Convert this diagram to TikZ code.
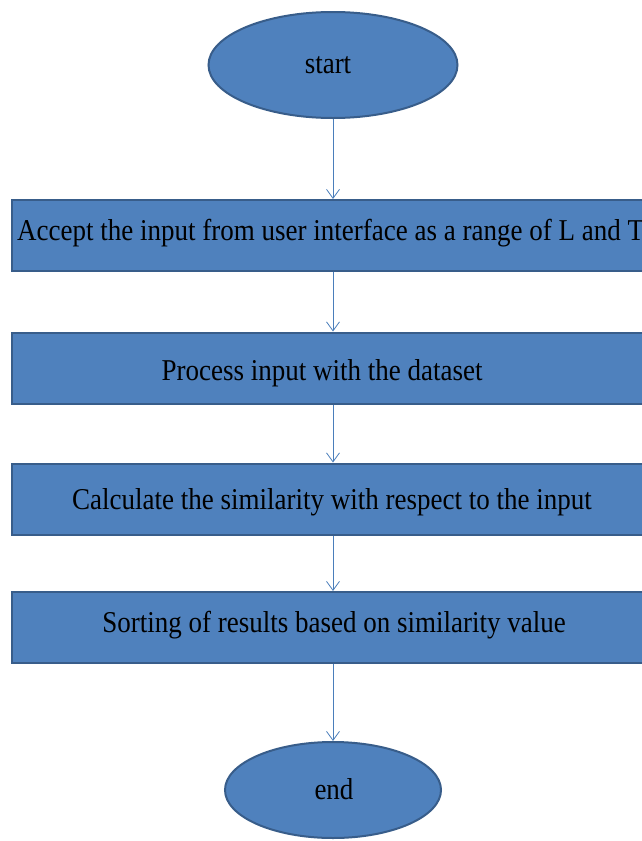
\documentclass[tikz,border=0pt]{standalone}
\usepackage{fontspec}
\setmainfont{Liberation Serif}
\usetikzlibrary{shapes.geometric,arrows.meta}
\definecolor{boxfill}{HTML}{4F81BD}
\definecolor{boxline}{HTML}{385D8A}
\definecolor{arrowblue}{HTML}{4A7EBB}
\newcommand{\tallt}[1]{\scalebox{1}[1.12]{#1}}
\begin{document}
\begin{tikzpicture}[x=1pt,y=-1pt,
  term/.style={ellipse,fill=boxfill,draw=boxline,line width=2pt},
  stepbox/.style={rectangle,fill=boxfill,draw=boxline,line width=2pt,minimum width=642pt,minimum height=71pt,inner sep=0pt},
  lbl/.style={anchor=base,inner sep=0pt,font=\fontsize{27}{30}\selectfont,text=black},
  conn/.style={draw=arrowblue,line width=0.8pt,-{Straight Barb[length=9pt,width=13pt,line width=0.8pt]}}]
\useasboundingbox (0,0) rectangle (642,841);
\clip (0,0) rectangle (642,841);
\node[term,minimum width=249pt,minimum height=106pt] (start) at (333,65) {};
\node[lbl] (ts) at (328,73) {\tallt{start}};
\node[stepbox] (b1) at (333,235.5) {};
\node[lbl,anchor=base west] (t1) at (17,240) {\tallt{Accept the input from user interface as a range of L and T}};
\node[stepbox] (b2) at (333,368) {};
\node[lbl] (t2) at (322,380) {\tallt{Process input with the dataset}};
\node[stepbox] (b3) at (333,499) {};
\node[lbl] (t3) at (332,509) {\tallt{Calculate the similarity with respect to the input}};
\node[stepbox] (b4) at (333,627.5) {};
\node[lbl] (t4) at (334,632) {\tallt{Sorting of results based on similarity value}};
\node[term,minimum width=216pt,minimum height=96pt] (end) at (333,790) {};
\node[lbl] (te) at (334,799) {\tallt{end}};
\draw[conn] (start.south) -- (start.south |- b1.north);
\draw[conn] (b1.south -| start.south) -- (b2.north -| start.south);
\draw[conn] (b2.south -| start.south) -- (b3.north -| start.south);
\draw[conn] (b3.south -| start.south) -- (b4.north -| start.south);
\draw[conn] (b4.south -| start.south) -- (end.north);
\end{tikzpicture}
\end{document}
